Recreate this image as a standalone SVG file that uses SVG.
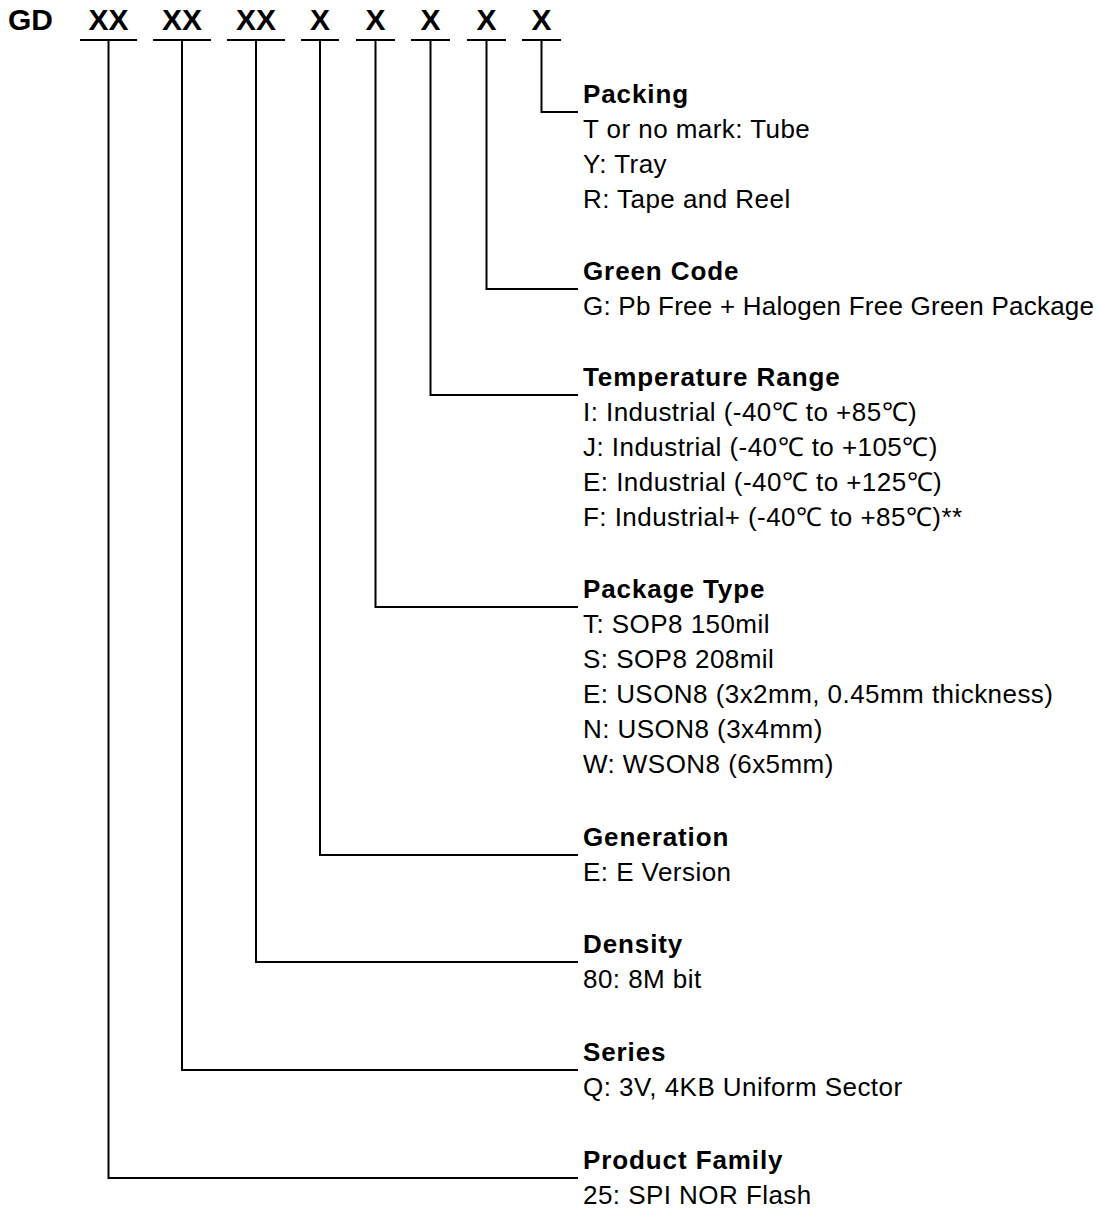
<svg xmlns="http://www.w3.org/2000/svg" width="1100" height="1211" viewBox="0 0 1100 1211">
<style>
  .hdr { font-family: "Liberation Sans", Arial, sans-serif; font-size: 30px; font-weight: bold; fill: #000; }
  .x { text-anchor: middle; }
  .ttl { font-family: "Liberation Sans", Arial, sans-serif; font-size: 26px; font-weight: bold; letter-spacing: 0.9px; fill: #000; }
  .itm { font-family: "Liberation Sans", Arial, sans-serif; font-size: 26px; letter-spacing: 0.45px; fill: #000; }
  .fit { letter-spacing: 0; }
  .ln { fill: none; stroke: #000; stroke-width: 2; }
</style>
<rect width="1100" height="1211" fill="#fff"/>
<g id="header">
  <text class="hdr" x="8" y="30">GD</text>
  <text class="hdr x" x="108.5" y="30">XX</text>
  <text class="hdr x" x="182" y="30">XX</text>
  <text class="hdr x" x="256" y="30">XX</text>
  <text class="hdr x" x="320" y="30">X</text>
  <text class="hdr x" x="375.5" y="30">X</text>
  <text class="hdr x" x="430.5" y="30">X</text>
  <text class="hdr x" x="486.5" y="30">X</text>
  <text class="hdr x" x="541.5" y="30">X</text>
</g>
<g id="connectors">
  <path class="ln" d="M80 40H137M153 40H211M227 40H285M301 40H339M356 40H395M411 40H450M467 40H506M522 40H561"/>
  <path class="ln" d="M541.5 40V112H578"/>
  <path class="ln" d="M486.5 40V289H578"/>
  <path class="ln" d="M430.5 40V395H578"/>
  <path class="ln" d="M375.5 40V607H578"/>
  <path class="ln" d="M320 40V855H578"/>
  <path class="ln" d="M256 40V962H578"/>
  <path class="ln" d="M182 40V1070H578"/>
  <path class="ln" d="M108.5 40V1178H578"/>
</g>
<g id="packing">
  <text class="ttl" x="583" y="103">Packing</text>
  <text class="itm" x="583" y="138">T or no mark: Tube</text>
  <text class="itm" x="583" y="173">Y: Tray</text>
  <text class="itm" x="583" y="208">R: Tape and Reel</text>
</g>
<g id="green-code">
  <text class="ttl" x="583" y="280">Green Code</text>
  <text class="itm fit" x="583" y="315" textLength="511" lengthAdjust="spacing">G: Pb Free + Halogen Free Green Package</text>
</g>
<g id="temperature-range">
  <text class="ttl" x="583" y="386">Temperature Range</text>
  <text class="itm" x="583" y="421">I: Industrial (-40℃ to +85℃)</text>
  <text class="itm" x="583" y="456">J: Industrial (-40℃ to +105℃)</text>
  <text class="itm" x="583" y="491">E: Industrial (-40℃ to +125℃)</text>
  <text class="itm" x="583" y="526">F: Industrial+ (-40℃ to +85℃)**</text>
</g>
<g id="package-type">
  <text class="ttl" x="583" y="598">Package Type</text>
  <text class="itm" x="583" y="633">T: SOP8 150mil</text>
  <text class="itm" x="583" y="668">S: SOP8 208mil</text>
  <text class="itm" x="583" y="703">E: USON8 (3x2mm, 0.45mm thickness)</text>
  <text class="itm" x="583" y="738">N: USON8 (3x4mm)</text>
  <text class="itm" x="583" y="773">W: WSON8 (6x5mm)</text>
</g>
<g id="generation">
  <text class="ttl" x="583" y="846">Generation</text>
  <text class="itm" x="583" y="881">E: E Version</text>
</g>
<g id="density">
  <text class="ttl" x="583" y="953">Density</text>
  <text class="itm" x="583" y="988">80: 8M bit</text>
</g>
<g id="series">
  <text class="ttl" x="583" y="1061">Series</text>
  <text class="itm" x="583" y="1096">Q: 3V, 4KB Uniform Sector</text>
</g>
<g id="product-family">
  <text class="ttl" x="583" y="1169">Product Family</text>
  <text class="itm" x="583" y="1204">25: SPI NOR Flash</text>
</g>
</svg>
